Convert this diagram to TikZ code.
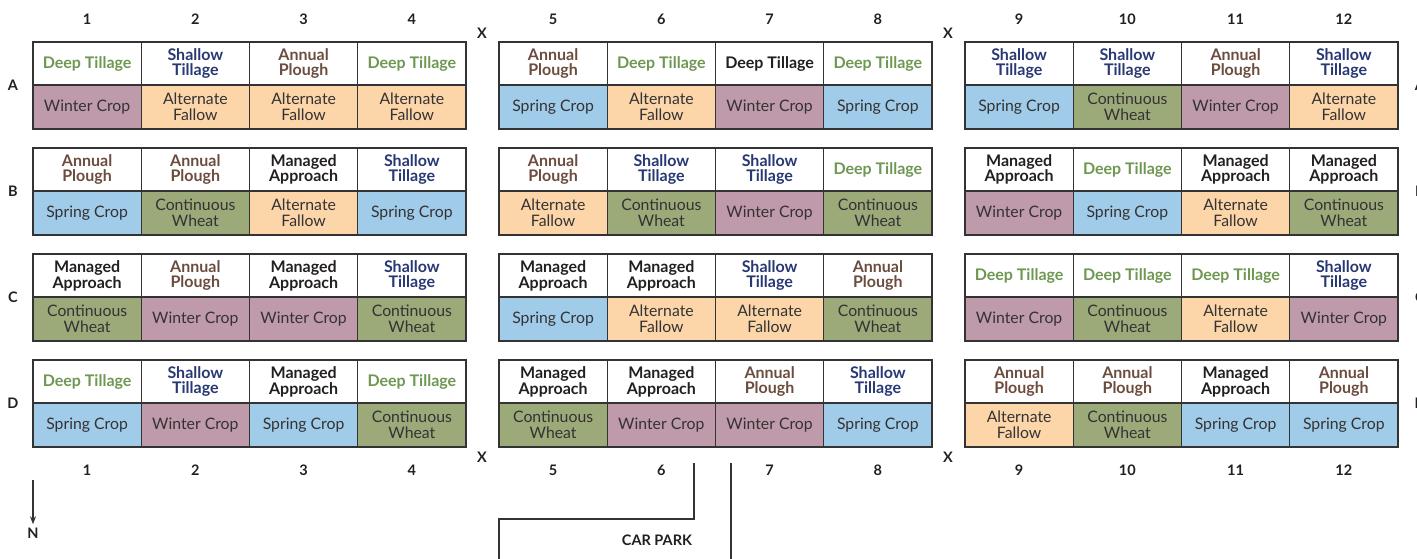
\documentclass[tikz,border=0pt]{standalone}
\usepackage{fontspec}
\setmainfont{Lato}
\usetikzlibrary{arrows.meta}

% Fills of the crop cells
\definecolor{winterc}{RGB}{191,154,170}
\definecolor{fallowc}{RGB}{252,214,168}
\definecolor{springc}{RGB}{160,204,234}
\definecolor{wheatc}{RGB}{155,170,120}
% Text colours of the treatments
\definecolor{deepc}{RGB}{110,152,82}
\definecolor{shallowc}{RGB}{40,56,116}
\definecolor{ploughc}{RGB}{108,76,62}
\definecolor{managedc}{RGB}{35,31,32}
\definecolor{croptext}{RGB}{52,50,52}
\definecolor{gridline}{RGB}{51,51,51}

\tikzset{
  cell/.style={draw=gridline, line width=1.3pt, minimum width=108.25pt,
    inner sep=0pt, outer sep=0pt, anchor=north west, align=center},
  headcell/.style={cell, minimum height=43pt, fill=white,
    font=\bfseries\fontsize{16}{14.6}\selectfont},
  cropcell/.style={cell, minimum height=44pt, text=croptext,
    font=\fontsize{15.8}{15.7}\selectfont},
  % treatments
  deep/.style={text=deepc, node contents={Deep Tillage}},
  deepblack/.style={text=managedc, node contents={Deep Tillage}},
  shallow/.style={text=shallowc, node contents={Shallow\\Tillage}},
  plough/.style={text=ploughc, node contents={Annual\\Plough}},
  managed/.style={text=managedc, node contents={Managed\\Approach}},
  % crops
  winter/.style={fill=winterc, node contents={Winter Crop}},
  fallow/.style={fill=fallowc, node contents={Alternate\\Fallow}},
  spring/.style={fill=springc, node contents={Spring Crop}},
  wheat/.style={fill=wheatc, node contents={Continuous\\Wheat}},
  blockline/.style={draw=gridline, line width=2.4pt},
  marklabel/.style={text=managedc, font=\bfseries\fontsize{14.5}{14.5}\selectfont},
  parkline/.style={draw=gridline, line width=1.8pt}
}

\begin{document}
\begin{tikzpicture}[x=1pt, y=-1pt]

  \useasboundingbox (0,0) rectangle (1417,558);

  % Plots, one row at a time: column/treatment/crop
  \foreach \r/\y/\cells in {
      A/42/{1/deep/winter, 2/shallow/fallow, 3/plough/fallow, 4/deep/fallow,
            5/plough/spring, 6/deep/fallow, 7/deepblack/winter, 8/deep/spring,
            9/shallow/spring, 10/shallow/wheat, 11/plough/winter, 12/shallow/fallow},
      B/148/{1/plough/spring, 2/plough/wheat, 3/managed/fallow, 4/shallow/spring,
            5/plough/fallow, 6/shallow/wheat, 7/shallow/winter, 8/deep/wheat,
            9/managed/winter, 10/deep/spring, 11/managed/fallow, 12/managed/wheat},
      C/254/{1/managed/wheat, 2/plough/winter, 3/managed/winter, 4/shallow/wheat,
            5/managed/spring, 6/managed/fallow, 7/shallow/fallow, 8/plough/wheat,
            9/deep/winter, 10/deep/wheat, 11/deep/fallow, 12/shallow/winter},
      D/360/{1/deep/spring, 2/shallow/winter, 3/managed/spring, 4/deep/wheat,
            5/managed/wheat, 6/managed/winter, 7/plough/winter, 8/shallow/spring,
            9/plough/fallow, 10/plough/wheat, 11/managed/spring, 12/plough/spring}} {
    \foreach \c/\h/\k in \cells {
      \pgfmathsetmacro{\xl}{33+466*int((\c-1)/4)+108.25*mod(\c-1,4)}
      \node (\r\c h) at (\xl,\y) [headcell,\h];
      \node (\r\c c) at (\xl,\y+43) [cropcell,\k];
    }
  }

  % Outlines of the twelve blocks
  \foreach \r in {A,B,C,D}
    \foreach \s/\e in {1/4,5/8,9/12}
      \draw[blockline] (\r\s h.north west) rectangle (\r\e c.south east);

  % Column numbers, top and bottom
  \foreach \c in {1,...,12} {
    \pgfmathsetmacro{\xm}{87.125+466*int((\c-1)/4)+108.25*mod(\c-1,4)}
    \node[marklabel] (top\c) at (\xm,19) {\c};
    \node[marklabel] (bot\c) at (\xm,470) {\c};
  }

  % Row letters, left and right
  \foreach \r/\y in {A/85.5,B/191.5,C/297.5,D/403.5} {
    \node[marklabel] (row\r) at (13,\y) {\r};
    \node[marklabel] (row\r r) at (1420,\y) {\r};
  }

  % X marks between the blocks
  \node[marklabel] (xtopa) at (482,33) {X};
  \node[marklabel] (xtopb) at (948,33) {X};
  \node[marklabel] (xbota) at (482,457) {X};
  \node[marklabel] (xbotb) at (948,457) {X};

  % North arrow
  \coordinate (arrowtop) at (33,480);
  \node[marklabel] (north) at (33,533) {N};
  \draw[line width=1.3pt, draw=gridline, -{Stealth[length=8pt, width=6pt]}]
    (arrowtop) -- (north.north);

  % Car park
  \coordinate (parka) at (694,463);
  \coordinate (parkb) at (499,560);
  \coordinate (parkc) at (731,463);
  \coordinate (parkd) at (731,560);
  \draw[parkline] (parka) |- (499,519) -- (parkb);
  \draw[parkline] (parkc) -- (parkd);
  \node[marklabel] (carpark) at (657,540) {CAR PARK};

\end{tikzpicture}
\end{document}
